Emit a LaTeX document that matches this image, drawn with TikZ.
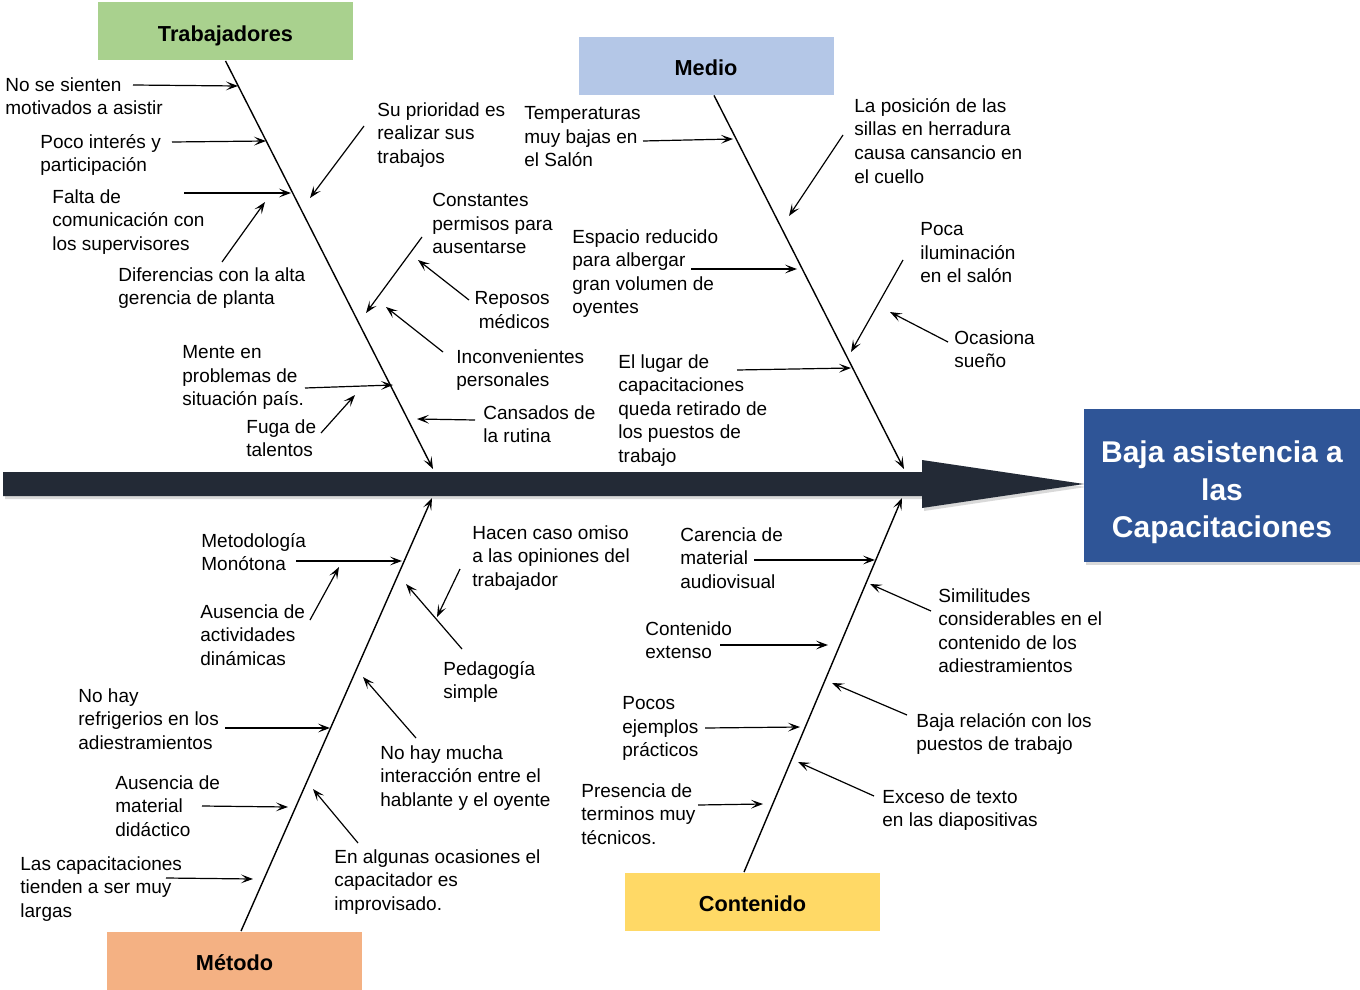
\documentclass[tikz,border=0pt]{standalone}
\usepackage{fontspec}
\setmainfont{Liberation Sans}
\usepackage[table]{xcolor}
\usepackage{tikz}
\usetikzlibrary{arrows.meta,shadows}
\definecolor{espina}{HTML}{232A36}
\definecolor{efecto}{HTML}{2F5597}
\definecolor{verde}{HTML}{A9D18E}
\definecolor{azul}{HTML}{B4C7E7}
\definecolor{naranja}{HTML}{F4B183}
\definecolor{amarillo}{HTML}{FFD966}

\begin{document}
\begin{tikzpicture}[x=0.5pt,y=-0.5pt,
  causa/.style={anchor=north west,align=left,inner sep=0pt,font=\fontsize{9.5}{11.8}\selectfont},
  categoria/.style={inner sep=0pt,minimum width=127.5pt,minimum height=29pt,text height=9.6pt,text depth=0pt,font=\fontsize{10.85}{13}\selectfont\bfseries},
  punta/.style={-{Stealth[length=6pt,width=4.4pt,inset=2.8pt]}},
  flecha/.style={punta,line width=0.6pt},
  hueso/.style={punta,line width=0.7pt},
  sombra/.style={drop shadow={shadow xshift=1pt,shadow yshift=-1.5pt,opacity=.3}}]
\useasboundingbox (0,0) rectangle (1360,990);

\fill[espina,sombra] (3,472) -- (922,472) -- (922,460) -- (1084,484) -- (922,508) -- (922,496) -- (3,496) -- cycle;
\node[fill=efecto,sombra,minimum width=138pt,minimum height=76.5pt,inner sep=0pt,
  label={[text=white,align=center,yshift=-3.5pt,font=\fontsize{15}{18.75}\selectfont\bfseries]center:Baja asistencia a\\las\\Capacitaciones}] (efecto) at (1222,485.5) {};

\node[categoria,fill=verde] (trabajadores) at (225.5,31.5) {Trabajadores};
\node[categoria,fill=azul] (medio) at (706,66) {Medio};
\node[categoria,fill=naranja] (metodo) at (234.5,960.5) {Método};
\node[categoria,fill=amarillo] (contenido) at (752.5,901.5) {Contenido};

\coordinate (e1) at (433,469);
\coordinate (e2) at (904,469);
\coordinate (e3) at (432,498);
\coordinate (e4) at (902,498);
\draw[hueso] (trabajadores.south) -- (e1);
\draw[hueso] ([xshift=4pt]medio.south) -- (e2);
\draw[hueso] ([xshift=3.25pt]metodo.north) -- (e3);
\draw[hueso] ([xshift=-4.25pt]contenido.north) -- (e4);

\node[causa] (c1) at (5,77) {No se sienten\\motivados a asistir};
\coordinate (c1a) at (133,85); \coordinate (c1b) at (238,86); \draw[flecha] (c1a) -- (c1b);
\node[causa] (c2) at (40,134) {Poco interés y\\participación};
\coordinate (c2a) at (172,142); \coordinate (c2b) at (266,141); \draw[flecha] (c2a) -- (c2b);
\node[causa] (c3) at (52,189) {Falta de\\comunicación con\\los supervisores};
\coordinate (c3a) at (184,193); \coordinate (c3b) at (291,193); \draw[flecha] (c3a) -- (c3b);
\node[causa] (c4) at (118,267) {Diferencias con la alta\\gerencia de planta};
\coordinate (c4a) at (222,262); \coordinate (c4b) at (265,202); \draw[flecha] (c4a) -- (c4b);
\node[causa] (c5) at (377,102) {Su prioridad es\\realizar sus\\trabajos};
\coordinate (c5a) at (364,126); \coordinate (c5b) at (310,198); \draw[flecha] (c5a) -- (c5b);
\node[causa] (c6) at (432,193) {Constantes\\permisos para\\ausentarse};
\coordinate (c6a) at (422,237); \coordinate (c6b) at (366,313); \draw[flecha] (c6a) -- (c6b);
\node[causa,anchor=north east,align=right] (c7) at (550,291) {Reposos\\médicos};
\coordinate (c7a) at (469,300); \coordinate (c7b) at (418,260); \draw[flecha] (c7a) -- (c7b);
\node[causa] (c8) at (456,349) {Inconvenientes\\personales};
\coordinate (c8a) at (443,352); \coordinate (c8b) at (386,307); \draw[flecha] (c8a) -- (c8b);
\node[causa] (c9) at (182,345) {Mente en\\problemas de\\situación país.};
\coordinate (c9a) at (305,388); \coordinate (c9b) at (393,385); \draw[flecha] (c9a) -- (c9b);
\node[causa] (c10) at (246,419) {Fuga de\\talentos};
\coordinate (c10a) at (321,433); \coordinate (c10b) at (355,395); \draw[flecha] (c10a) -- (c10b);
\node[causa] (c11) at (483,405) {Cansados de\\la rutina};
\coordinate (c11a) at (475,420); \coordinate (c11b) at (417,419); \draw[flecha] (c11a) -- (c11b);

\node[causa] (c12) at (524,106) {Temperaturas\\muy bajas en\\el Salón};
\coordinate (c12a) at (643,141); \coordinate (c12b) at (733,139); \draw[flecha] (c12a) -- (c12b);
\node[causa] (c13) at (854,98) {La posición de las\\sillas en herradura\\causa cansancio en\\el cuello};
\coordinate (c13a) at (843,135); \coordinate (c13b) at (789,216); \draw[flecha] (c13a) -- (c13b);
\node[causa] (c14) at (572,229) {Espacio reducido\\para albergar\\gran volumen de\\oyentes};
\coordinate (c14a) at (691,269); \coordinate (c14b) at (797,269); \draw[flecha] (c14a) -- (c14b);
\node[causa] (c15) at (920,222) {Poca\\iluminación\\en el salón};
\coordinate (c15a) at (903,260); \coordinate (c15b) at (851,352); \draw[flecha] (c15a) -- (c15b);
\node[causa] (c16) at (954,330) {Ocasiona\\sueño};
\coordinate (c16a) at (948,342); \coordinate (c16b) at (890,312); \draw[flecha] (c16a) -- (c16b);
\node[causa] (c17) at (618,354) {El lugar de\\capacitaciones\\queda retirado de\\los puestos de\\trabajo};
\coordinate (c17a) at (737,370); \coordinate (c17b) at (851,368); \draw[flecha] (c17a) -- (c17b);

\node[causa] (c18) at (201,533) {Metodología\\Monótona};
\coordinate (c18a) at (296,561); \coordinate (c18b) at (402,561); \draw[flecha] (c18a) -- (c18b);
\node[causa] (c19) at (200,604) {Ausencia de\\actividades\\dinámicas};
\coordinate (c19a) at (310,620); \coordinate (c19b) at (339,567); \draw[flecha] (c19a) -- (c19b);
\node[causa] (c20) at (78,688) {No hay\\refrigerios en los\\adiestramientos};
\coordinate (c20a) at (225,728); \coordinate (c20b) at (330,728); \draw[flecha] (c20a) -- (c20b);
\node[causa] (c21) at (115,775) {Ausencia de\\material\\didáctico};
\coordinate (c21a) at (202,806); \coordinate (c21b) at (288,807); \draw[flecha] (c21a) -- (c21b);
\node[causa] (c22) at (20,856) {Las capacitaciones\\tienden a ser muy\\largas};
\coordinate (c22a) at (166,878); \coordinate (c22b) at (253,879); \draw[flecha] (c22a) -- (c22b);
\node[causa] (c23) at (472,525) {Hacen caso omiso\\a las opiniones del\\trabajador};
\coordinate (c23a) at (460,569); \coordinate (c23b) at (437,617); \draw[flecha] (c23a) -- (c23b);
\node[causa] (c24) at (443,661) {Pedagogía\\simple};
\coordinate (c24a) at (462,649); \coordinate (c24b) at (406,584); \draw[flecha] (c24a) -- (c24b);
\node[causa] (c25) at (380,745) {No hay mucha\\interacción entre el\\hablante y el oyente};
\coordinate (c25a) at (416,738); \coordinate (c25b) at (363,677); \draw[flecha] (c25a) -- (c25b);
\node[causa] (c26) at (334,849) {En algunas ocasiones el\\capacitador es\\improvisado.};
\coordinate (c26a) at (358,843); \coordinate (c26b) at (313,789); \draw[flecha] (c26a) -- (c26b);

\node[causa] (c27) at (680,527) {Carencia de\\material\\audiovisual};
\coordinate (c27a) at (754,560); \coordinate (c27b) at (875,560); \draw[flecha] (c27a) -- (c27b);
\node[causa] (c28) at (645,621) {Contenido\\extenso};
\coordinate (c28a) at (720,645); \coordinate (c28b) at (828,645); \draw[flecha] (c28a) -- (c28b);
\node[causa] (c29) at (622,696) {Pocos\\ejemplos\\prácticos};
\coordinate (c29a) at (705,728); \coordinate (c29b) at (800,727); \draw[flecha] (c29a) -- (c29b);
\node[causa] (c30) at (581,783) {Presencia de\\terminos muy\\técnicos.};
\coordinate (c30a) at (698,805); \coordinate (c30b) at (763,804); \draw[flecha] (c30a) -- (c30b);
\node[causa] (c31) at (938,588) {Similitudes\\considerables en el\\contenido de los\\adiestramientos};
\coordinate (c31a) at (931,611); \coordinate (c31b) at (870,584); \draw[flecha] (c31a) -- (c31b);
\node[causa] (c32) at (916,713) {Baja relación con los\\puestos de trabajo};
\coordinate (c32a) at (907,715); \coordinate (c32b) at (832,683); \draw[flecha] (c32a) -- (c32b);
\node[causa] (c33) at (882,789) {Exceso de texto\\en las diapositivas};
\coordinate (c33a) at (874,796); \coordinate (c33b) at (798,762); \draw[flecha] (c33a) -- (c33b);
\end{tikzpicture}
\end{document}
